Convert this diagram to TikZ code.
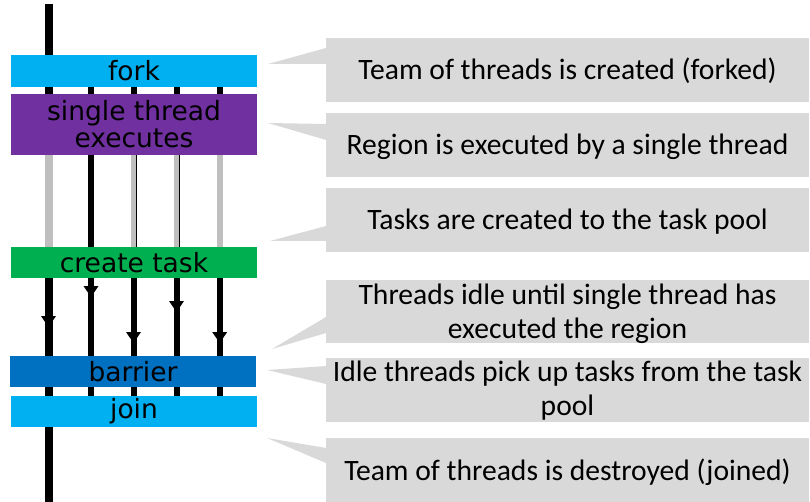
\documentclass[tikz,border=0pt]{standalone}
\usepackage{fontspec}
\setmainfont{Carlito}
\newfontfamily\barfont{DejaVu Sans}
\definecolor{forkblue}{HTML}{00B0F0}
\definecolor{singlepurple}{HTML}{7030A0}
\definecolor{taskgreen}{HTML}{00B050}
\definecolor{barrierblue}{HTML}{0070C0}
\definecolor{threadgray}{HTML}{BFBFBF}
\definecolor{notegray}{HTML}{D9D9D9}
\begin{document}
\begin{tikzpicture}[x=1pt,y=-1pt,
  bar/.style={minimum width=246pt, inner sep=0pt, outer sep=0pt,
    font=\barfont\fontsize{26.5}{27}\selectfont, align=center, text=black},
  note/.style={fill=notegray, minimum width=483pt, minimum height=64pt,
    inner sep=0pt, outer sep=0pt},
  notetext/.style={font=\fontsize{29.6}{34}\selectfont, align=center,
    anchor=base, inner sep=0pt},
  mainthr/.style={line width=8pt, black},
  busy/.style={line width=6pt, black},
  idle/.style={line width=6pt, threadgray},
  hairline/.style={line width=1.3pt, black},
  headfill/.style={fill=black},
  pointer/.style={fill=notegray}
]
\useasboundingbox (0,0) rectangle (810,502);

% construct bars
\node[bar, fill=forkblue, minimum height=32pt] (fork) at (134,71) {fork};
\node[bar, fill=singlepurple, minimum height=61pt] (single) at (134,124.5)
  {single thread\\executes};
\node[bar, fill=taskgreen, minimum height=31pt] (create) at (134,262.5) {create task};
\node[bar, fill=barrierblue, minimum height=31pt] (barrier) at (133,371.5) {barrier};
\node[bar, fill=forkblue, minimum height=31pt] (join) at (134,411.5) {join};

% thread positions
\coordinate (t1) at (48.5,0);
\coordinate (t2) at (91,0);
\coordinate (t3) at (133.5,0);
\coordinate (t4) at (176.5,0);
\coordinate (t5) at (219.7,0);
\coordinate (start) at (48.5,4);
\coordinate (end) at (48.5,502);

% master thread
\draw[mainthr] (start) -- (fork.north -| start);
\draw[mainthr] (fork.south -| t1) -- (single.north -| t1);
\draw[mainthr, threadgray] (single.south -| t1) -- (create.north -| t1);
\draw[mainthr] (create.south -| t1) -- (barrier.north -| t1);
\draw[mainthr] (barrier.south -| t1) -- (join.north -| t1);
\draw[mainthr] (join.south -| t1) -- (end);

% team threads between fork and single
\foreach \t in {t2,t3,t4,t5}
  \draw[busy] (fork.south -| \t) -- (single.north -| \t);

% inside the single region
\draw[busy] (single.south -| t2) -- (create.north -| t2);
\foreach \t in {t3,t4,t5}
  \draw[idle] (single.south -| \t) -- (create.north -| \t);
\foreach \t in {t3,t4}
  \draw[hairline] ([xshift=3.3pt]single.south -| \t) -- ([xshift=3.3pt]create.north -| \t);

% threads picking up tasks
\foreach \t in {t2,t3,t4,t5}
  \draw[busy] (create.south -| \t) -- (barrier.north -| \t);

% arrowheads: tip distance below the create-task bar
\foreach \t/\d in {t1/49, t2/19, t3/65, t4/34, t5/65}
  \fill[headfill] ([yshift=-\d pt]create.south -| \t) -- ++(-7.5,-11) -- ++(15,0) -- cycle;

% between barrier and join
\foreach \t in {t2,t3,t4,t5}
  \draw[busy] (barrier.south -| \t) -- (join.north -| \t);

% explanation boxes
\node[note] (c1) at (567.5,70) {};
\node[note] (c2) at (567.5,145) {};
\node[note] (c3) at (567.5,220) {};
\node[note, minimum height=63pt] (c4) at (567.5,311.5) {};
\node[note] (c5) at (567.5,390) {};
\node[note] (c6) at (567.5,470) {};

% pointer tips
\coordinate (p1) at (268,64);
\coordinate (p2) at (268,123);
\coordinate (p3) at (270,241);
\coordinate (p4) at (272,349);
\coordinate (p5) at (267,370);
\coordinate (p6) at (267,438);

\fill[pointer] (c1.west |- 0,48) -- (p1) -- (c1.west |- 0,64) -- cycle;
\fill[pointer] (c2.west |- 0,124) -- (p2) -- (c2.west |- 0,140) -- cycle;
\fill[pointer] (c3.west |- 0,226) -- (p3) -- (c3.west |- 0,241) -- cycle;
\fill[pointer] (c4.west |- 0,317) -- (p4) -- (c4.west |- 0,333) -- cycle;
\fill[pointer] (c5.west |- 0,366) -- (p5) -- (c5.west |- 0,384) -- cycle;
\fill[pointer] (c6.west |- 0,448) -- (p6) -- (c6.west |- 0,463) -- cycle;

% explanation texts (multi-line ones are anchored at their last baseline)
\node[notetext] at (567.5,80) {Team of threads is created (forked)};
\node[notetext] at (567.5,155) {Region is executed by a single thread};
\node[notetext] at (567.5,230) {Tasks are created to the task pool};
\node[notetext] at (567.5,338) {Threads idle until single thread has\\executed the region};
\node[notetext] at (567.5,415) {Idle threads pick up tasks from the task\\pool};
\node[notetext] at (567.5,480) {Team of threads is destroyed (joined)};
\end{tikzpicture}
\end{document}
